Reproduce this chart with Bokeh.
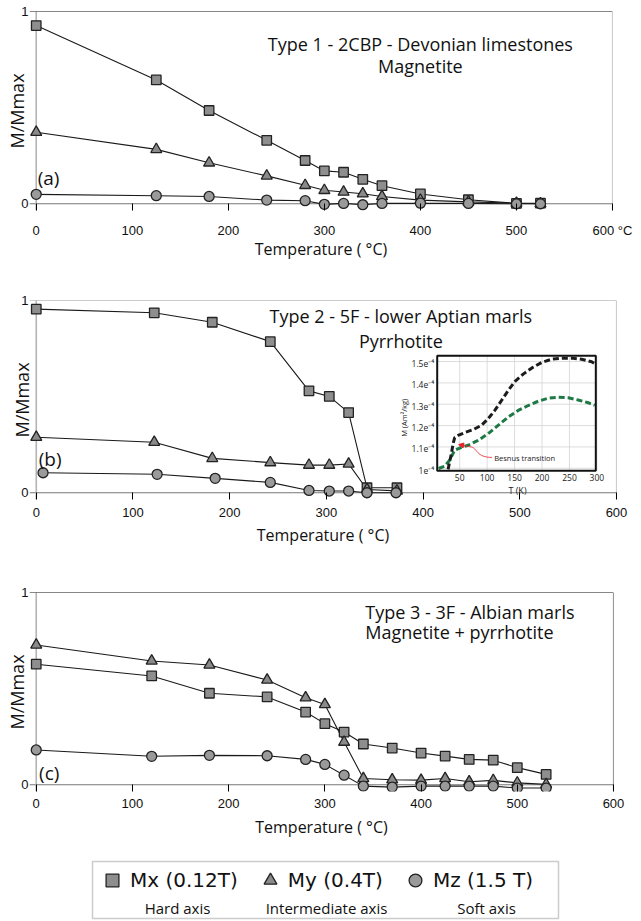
import math
from bokeh.plotting import figure
from bokeh.layouts import column
from bokeh.models import (Range1d, FixedTicker, Span, Label, BoxAnnotation,
                          Legend, LegendItem, Arrow, NormalHead)
from bokeh.core.properties import value
from bokeh.embed import file_html
from bokeh.resources import INLINE

# ------------------------------------------------------------------ data
temp_a = [0, 125, 180, 240, 280, 300, 320, 340, 360, 400, 450, 500, 525]
mx_a = [0.927, 0.644, 0.485, 0.330, 0.225, 0.171, 0.164, 0.127, 0.094, 0.051, 0.021, 0.002, 0.003]
my_a = [0.372, 0.283, 0.213, 0.145, 0.096, 0.070, 0.061, 0.052, 0.038, 0.019, 0.010, 0.003, 0.001]
mz_a = [0.049, 0.042, 0.038, 0.019, 0.016, -0.003, 0.002, -0.005, 0.002, 0.003, 0.002, 0.000, 0.000]

temp_b = [0, 122, 182, 242, 282, 303, 323, 342, 373]
mx_b = [0.955, 0.936, 0.887, 0.786, 0.530, 0.501, 0.417, 0.026, 0.026]
my_b = [0.289, 0.263, 0.179, 0.157, 0.144, 0.144, 0.150, 0.017, 0.010]
temp_bz = [7, 125, 185, 242, 282, 303, 323, 342, 372]
mz_b = [0.104, 0.096, 0.075, 0.054, 0.012, 0.009, 0.009, 0.000, 0.000]

temp_c = [0, 120, 180, 240, 280, 300, 320, 340, 370, 400, 425, 450, 475, 500, 530]
mx_c = [0.627, 0.566, 0.476, 0.457, 0.378, 0.318, 0.274, 0.212, 0.191, 0.165, 0.149, 0.132, 0.128, 0.089, 0.054]
my_c = [0.727, 0.644, 0.623, 0.545, 0.453, 0.418, 0.222, 0.033, 0.026, 0.024, 0.033, 0.016, 0.023, 0.010, 0.002]
mz_c = [0.181, 0.148, 0.153, 0.151, 0.132, 0.106, 0.050, -0.007, -0.012, -0.007, -0.007, -0.007, -0.007, -0.017, -0.017]

x_ticks = [0, 100, 200, 300, 400, 500, 600]
y_ticks = [0, 1]

inset_T_black = [28.8, 31.7, 34.9, 38.0, 40.9, 47.0, 59.0, 74.5, 89.6, 101.8, 113.9, 126.0, 138.3,
                 150.4, 165.7, 180.9, 199.0, 217.4, 235.6, 253.9, 272.0, 290.4, 296.0]
inset_M_black = [0.995, 1.030, 1.069, 1.116, 1.144, 1.154, 1.167, 1.181, 1.201, 1.232, 1.271, 1.317, 1.364,
                 1.406, 1.441, 1.469, 1.495, 1.511, 1.516, 1.516, 1.511, 1.499, 1.490]
inset_T_green = [11.6, 22.6, 31.7, 40.9, 50.0, 65.3, 83.6, 101.8, 120.0, 138.3, 156.6, 174.8, 193.0,
                 211.3, 229.6, 247.8, 266.0, 284.3, 296.0]
inset_M_green = [0.999, 1.010, 1.038, 1.085, 1.095, 1.108, 1.131, 1.162, 1.201, 1.240, 1.271, 1.294, 1.314,
                 1.328, 1.333, 1.330, 1.320, 1.307, 1.295]
inset_x_ticks = [50, 100, 150, 200, 250, 300]
inset_y_ticks = [1.0, 1.1, 1.2, 1.3, 1.4, 1.5]
inset_T_lim = [9, 298]
inset_M_lim = [0.988, 1.527]

legend_labels = ["Mx (0.12T)", "My (0.4T)", "Mz (1.5 T)"]
legend_sub = ["Hard axis", "Intermediate axis", "Soft axis"]

# ------------------------------------------------------------------ style
FIG_W = 641
XR = (-7, 600)
YR = (-0.035, 1.0)
FRAME_H = 199
TXT = "Open Sans"
NUM = "'Liberation Sans Narrow', 'Liberation Sans', sans-serif"
LINE_C = "#1a1a1a"
EDGE_C = "#222222"
MARKERS = [("square", 9.5, "#8e8e8e"), ("triangle", 11, "#8a8a8a"), ("circle", 10, "#9a9a9a")]


def make_panel(series, left_border, frame_w, top_border, bottom_border,
               tick_standoff, label_standoff, ylabel_standoff, top_color, right_color,
               letter, letter_x, letter_y, overrides=None):
    p = figure(x_range=Range1d(*XR), y_range=Range1d(*YR),
               frame_width=frame_w, frame_height=FRAME_H,
               min_border_left=left_border, min_border_right=FIG_W - left_border - frame_w,
               min_border_top=top_border, min_border_bottom=bottom_border,
               output_backend="svg", toolbar_location=None)
    p.grid.visible = False
    p.outline_line_color = None
    p.background_fill_color = "white"
    p.border_fill_color = "white"

    xa = p.xaxis[0]
    xa.ticker = FixedTicker(ticks=x_ticks)
    xa.axis_line_color = None
    xa.major_tick_in = 7
    xa.major_tick_out = 0
    xa.major_tick_line_color = "black"
    xa.minor_tick_line_color = None
    xa.major_label_standoff = tick_standoff
    xa.major_label_text_font = NUM
    xa.major_label_text_font_size = "13px"
    xa.major_label_text_color = "#111111"
    if overrides:
        xa.major_label_overrides = overrides
    xa.axis_label = "Temperature ( °C)"
    xa.axis_label_text_font = TXT
    xa.axis_label_text_font_size = "16px"
    xa.axis_label_text_font_style = "normal"
    xa.axis_label_text_color = "#111111"
    xa.axis_label_standoff = label_standoff

    ya = p.yaxis[0]
    ya.ticker = FixedTicker(ticks=y_ticks)
    ya.axis_line_color = None
    ya.major_tick_in = 0
    ya.major_tick_out = 0
    ya.minor_tick_line_color = None
    ya.major_label_standoff = 1
    ya.major_label_text_font = NUM
    ya.major_label_text_font_size = "13px"
    ya.major_label_text_color = "#111111"
    ya.axis_label = "M/Mmax"
    ya.axis_label_text_font = TXT
    ya.axis_label_text_font_size = "18px"
    ya.axis_label_text_font_style = "normal"
    ya.axis_label_text_color = "#111111"
    ya.axis_label_standoff = ylabel_standoff

    p.add_layout(Span(location=0, dimension="width", line_color="#777777", line_width=1.2, level="underlay"))
    p.add_layout(Span(location=0, dimension="height", line_color="#b4b4b4", line_width=1.6, level="underlay"))
    p.add_layout(Span(location=600, dimension="height", line_color=right_color, line_width=1.1, level="underlay"))
    p.add_layout(Span(location=1, dimension="width", line_color=top_color, line_width=1.2, level="underlay"))

    for (t, m), (mk, sz, fc) in zip(series, MARKERS):
        p.line(t, m, line_color=LINE_C, line_width=1.1)
    for (t, m), (mk, sz, fc) in zip(series, MARKERS):
        p.scatter(t, m, marker=mk, size=sz, fill_color=fc, line_color=EDGE_C, line_width=1.3)

    p.add_layout(Label(x=letter_x, y=letter_y, text=letter, text_align="left",
                       text_baseline="middle", text_font=TXT, text_font_size="19px",
                       text_color="#111111"))
    return p


def title_label(x, y, text, align="center"):
    return Label(x=x, y=y, text=text, text_align=align, text_baseline="middle",
                 text_font=TXT, text_font_size="18px", text_color="#111111")


# ------------------------------------------------------------------ panel (a)
pa = make_panel([(temp_a, mx_a), (temp_a, my_a), (temp_a, mz_a)],
                left_border=29, frame_w=583, top_border=11, bottom_border=70,
                tick_standoff=12, label_standoff=-3, ylabel_standoff=-11,
                top_color="#111111", right_color="#9a9a9a",
                letter="(a)", letter_x=1.5, letter_y=0.134, overrides={600: "600 °C"})
pa.add_layout(title_label(400, 0.832, "Type 1 - 2CBP - Devonian limestones"))
pa.add_layout(title_label(400, 0.718, "Magnetite"))

# ------------------------------------------------------------------ panel (b)
pb = make_panel([(temp_b, mx_b), (temp_b, my_b), (temp_bz, mz_b)],
                left_border=23, frame_w=587, top_border=20, bottom_border=71,
                tick_standoff=8, label_standoff=4, ylabel_standoff=-16,
                top_color="#9a9a9a", right_color="#9a9a9a",
                letter="(b)", letter_x=2.5, letter_y=0.176)
pb.add_layout(title_label(377, 0.921, "Type 2 - 5F - lower Aptian marls"))
pb.add_layout(title_label(377, 0.79, "Pyrrhotite"))

# inset placed inside panel (b) through extra ranges
INSET_BOX = dict(left=414.6, right=578.6, bottom=0.114, top=0.7125)


def inset_range(lo, hi, f0, f1):
    span = (hi - lo) / (f1 - f0)
    start = lo - f0 * span
    return Range1d(start=start, end=start + span)


fx0 = (INSET_BOX["left"] - XR[0]) / (XR[1] - XR[0])
fx1 = (INSET_BOX["right"] - XR[0]) / (XR[1] - XR[0])
fy0 = (INSET_BOX["bottom"] - YR[0]) / (YR[1] - YR[0])
fy1 = (INSET_BOX["top"] - YR[0]) / (YR[1] - YR[0])
pb.extra_x_ranges = {"ix": inset_range(inset_T_lim[0], inset_T_lim[1], fx0, fx1)}
pb.extra_y_ranges = {"iy": inset_range(inset_M_lim[0], inset_M_lim[1], fy0, fy1)}
IR = dict(x_range_name="ix", y_range_name="iy")

T0, T1 = inset_T_lim
M0, M1 = inset_M_lim
pb.quad(left=[T0], right=[T1], bottom=[M0], top=[M1], fill_color="white", line_color=None, **IR)
pb.segment(x0=inset_x_ticks, y0=[M0] * len(inset_x_ticks), x1=inset_x_ticks, y1=[M1] * len(inset_x_ticks),
           line_color="#d4d4d4", line_width=0.8, **IR)
pb.segment(x0=[T0] * len(inset_y_ticks), y0=inset_y_ticks, x1=[T1] * len(inset_y_ticks), y1=inset_y_ticks,
           line_color="#d4d4d4", line_width=0.8, **IR)
pb.line(inset_T_green, inset_M_green, line_color="#1d7a45", line_width=3, line_dash="6 3", **IR)
pb.line(inset_T_black, inset_M_black, line_color="#1c1c1c", line_width=3, line_dash="6 3", **IR)
pb.quad(left=[T0], right=[T1], bottom=[M0], top=[M1], fill_color=None, line_color="#111111",
        line_width=2, **IR)
pb.text(x=inset_x_ticks, y=[M0] * len(inset_x_ticks), text=[str(t) for t in inset_x_ticks],
        text_align="center", text_baseline="top", y_offset=3, text_font=value(TXT),
        text_font_size="8.5px", text_color="#222222", **IR)
pb.text(x=[T0] * len(inset_y_ticks), y=inset_y_ticks, text=[f"{v:g}e\u207b\u2074" for v in inset_y_ticks],
        text_align="right", text_baseline="middle", x_offset=-3, y_offset=2, text_font=value(TXT),
        text_font_size="8.5px", text_color="#222222", **IR)
pb.text(x=[112.8], y=[1.049], text=["Besnus transition"], text_align="left", text_baseline="middle",
        text_font=value(TXT), text_font_size="7.5px", text_color="#222222", **IR)
pb.bezier(x0=[109], y0=[1.051], x1=[71], y1=[1.100], cx0=[80], cy0=[1.050], cx1=[82], cy1=[1.095],
          line_color="#e8202a", line_width=0.8, **IR)
pb.add_layout(Arrow(end=NormalHead(size=5, fill_color="#e8202a", line_color="#e8202a"),
                    x_start=71, y_start=1.100, x_end=48, y_end=1.111,
                    line_color="#e8202a", line_width=0.8, **IR))
pb.add_layout(Label(x=380.7, y=0.39, text="M (Am²/kg)", angle=math.pi / 2, text_align="center",
                    text_baseline="middle", text_font=TXT, text_font_size="7.5px", text_color="#222222"))
pb.add_layout(Label(x=497.6, y=0.012, text="T (K)", text_align="center", text_baseline="middle",
                    text_font=TXT, text_font_size="9px", text_color="#222222"))

# ------------------------------------------------------------------ panel (c)
pc = make_panel([(temp_c, mx_c), (temp_c, my_c), (temp_c, mz_c)],
                left_border=29, frame_w=584, top_border=22, bottom_border=55,
                tick_standoff=7, label_standoff=5, ylabel_standoff=-11,
                top_color="#111111", right_color="#333333",
                letter="(c)", letter_x=3, letter_y=0.063)
pc.add_layout(title_label(342, 0.896, "Type 3 - 3F - Albian marls", align="left"))
pc.add_layout(title_label(342, 0.795, "Magnetite + pyrrhotite", align="left"))

# ------------------------------------------------------------------ legend
LEG_H = 75
LEG_SHIFT = 29  # aligns the legend panel's data space with the legend items in this layout
pl = figure(x_range=Range1d(LEG_SHIFT, FIG_W + LEG_SHIFT), y_range=Range1d(0, LEG_H),
            frame_width=FIG_W, frame_height=LEG_H,
            min_border=0, min_border_left=0, min_border_right=0, min_border_top=0, min_border_bottom=0,
            x_axis_type=None, y_axis_type=None, output_backend="svg", toolbar_location=None)
pl.outline_line_color = None
pl.background_fill_color = "white"
pl.border_fill_color = "white"
items = []
for lab, (mk, sz, fc) in zip(legend_labels, MARKERS):
    r = pl.scatter(x=[-50], y=[-50], marker=mk, size=sz, fill_color=fc, line_color=EDGE_C, line_width=1.3)
    items.append(LegendItem(label=lab, renderers=[r]))
leg = Legend(items=items, orientation="horizontal", location=(96, 25), glyph_width=32, glyph_height=32,
             label_standoff=2, spacing=16, padding=0, margin=0, border_line_color=None,
             background_fill_alpha=0, label_text_font="DejaVu Sans", label_text_font_size="20px",
             label_text_color="#111111")
pl.add_layout(leg)
pl.add_layout(BoxAnnotation(left=92, right=558, bottom=3, top=60, fill_alpha=0, fill_color=None,
                            line_color="#555555", line_width=1.5))
for txt, xc in zip(legend_sub, [177, 326, 486]):
    pl.add_layout(Label(x=xc, y=14, text=txt, text_align="center", text_baseline="middle",
                        text_font=TXT, text_font_size="15px", text_color="#111111"))

layout = column(pa, pb, pc, pl, spacing=0)
open("out.html", "w").write(file_html(layout, INLINE))
